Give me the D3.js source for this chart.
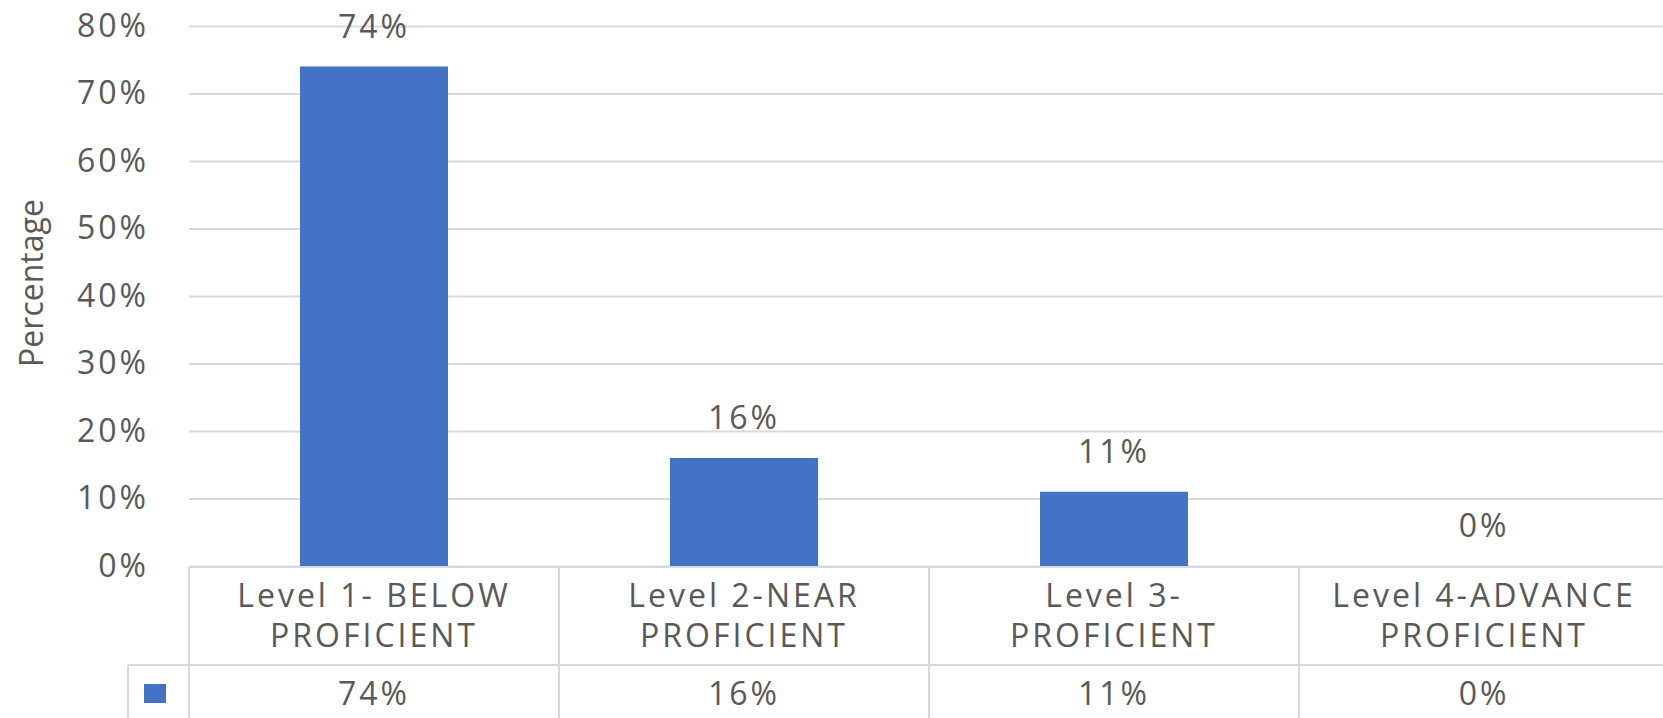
<!DOCTYPE html>
<html>
<head>
<meta charset="utf-8">
<script src="https://cdn.jsdelivr.net/npm/d3@7"></script>
<style>
  html, body { margin: 0; padding: 0; background: #fff; overflow: hidden; }
  text { font-family: "Open Sans", sans-serif; fill: #595959; }
</style>
</head>
<body>
<div id="chart"></div>
<script>
// chart data
var categories = ["Level 1- BELOW\nPROFICIENT", "Level 2-NEAR\nPROFICIENT", "Level 3-\nPROFICIENT", "Level 4-ADVANCE\nPROFICIENT"];
var values = [0.74, 0.16, 0.11, 0.00];
var yTicks = [0, 0.1, 0.2, 0.3, 0.4, 0.5, 0.6, 0.7, 0.8];
var yTitle = "Percentage";

var W = 1663, H = 718;
var margin = {left: 189, right: 1669, top: 26, bottom: 566};
var labelRowBottom = 665, legendLeft = 128;
var gridColor = "#d9d9d9", barColor = "#4472c4";
var fontSize = "32px", spacing = "3px";

var pct = d3.format(".0%");

var svg = d3.select("#chart").append("svg")
    .attr("width", W)
    .attr("height", H);

// set the ranges
var x = d3.scaleBand()
    .domain(categories)
    .range([margin.left, margin.right])
    .paddingInner(0.6)
    .paddingOuter(0.3);
var y = d3.scaleLinear()
    .domain([0, 0.8])
    .range([margin.bottom, margin.top]);

// gridlines + tick labels
var yAxis = svg.append("g")
    .attr("transform", "translate(" + margin.left + ",0)")
    .call(d3.axisLeft(y)
      .tickValues(yTicks)
      .tickFormat(pct)
      .tickSize(-(margin.right - margin.left))
      .tickPadding(40));
yAxis.select(".domain").remove();
yAxis.selectAll(".tick line")
    .attr("stroke", gridColor)
    .attr("stroke-width", 2);
yAxis.selectAll(".tick text")
    .attr("fill", "#595959")
    .style("font-family", "'Open Sans', sans-serif")
    .style("font-size", fontSize)
    .style("letter-spacing", spacing);

// y title
svg.append("text")
    .attr("transform", "translate(30,283) rotate(-90)")
    .attr("text-anchor", "middle")
    .attr("dominant-baseline", "central")
    .style("font-size", fontSize)
    .text(yTitle);

// bars
var data = categories.map(function(c, i) { return {cat: c, v: values[i]}; });
svg.selectAll(".bar")
    .data(data)
  .enter().append("rect")
    .attr("class", "bar")
    .attr("fill", barColor)
    .attr("x", function(d) { return x(d.cat); })
    .attr("width", x.bandwidth())
    .attr("y", function(d) { return y(d.v); })
    .attr("height", function(d) { return y(0) - y(d.v); });

// value labels above bars
svg.selectAll(".val")
    .data(data)
  .enter().append("text")
    .attr("class", "val")
    .attr("text-anchor", "middle")
    .attr("x", function(d) { return x(d.cat) + x.bandwidth() / 2; })
    .attr("y", function(d) { return y(d.v) - 29; })
    .style("font-size", fontSize)
    .style("letter-spacing", spacing)
    .text(function(d) { return pct(d.v); });

// data table under the axis
var step = x.step();
var table = svg.append("g")
    .attr("stroke", gridColor)
    .attr("stroke-width", 2)
    .attr("fill", "none");
table.append("line")
    .attr("x1", margin.left).attr("x2", W)
    .attr("y1", margin.bottom + 1).attr("y2", margin.bottom + 1);
table.append("line")
    .attr("x1", legendLeft).attr("x2", W)
    .attr("y1", labelRowBottom).attr("y2", labelRowBottom);
table.append("line")
    .attr("x1", legendLeft).attr("x2", legendLeft)
    .attr("y1", labelRowBottom).attr("y2", H);
table.selectAll(".vline")
    .data(d3.range(categories.length + 1))
  .enter().append("line")
    .attr("class", "vline")
    .attr("x1", function(i) { return margin.left + i * step; })
    .attr("x2", function(i) { return margin.left + i * step; })
    .attr("y1", margin.bottom + 1)
    .attr("y2", H);

// category labels (two lines)
var catText = svg.selectAll(".cat")
    .data(data)
  .enter().append("text")
    .attr("class", "cat")
    .attr("text-anchor", "middle")
    .style("font-size", fontSize)
    .style("letter-spacing", spacing);
catText.selectAll("tspan")
    .data(function(d) {
      var cx = x(d.cat) + x.bandwidth() / 2;
      return d.cat.split("\n").map(function(s) { return {s: s, cx: cx}; });
    })
  .enter().append("tspan")
    .attr("x", function(d) { return d.cx; })
    .attr("y", function(d, i) { return 607 + i * 40; })
    .text(function(d) { return d.s; });

// values row
svg.selectAll(".tval")
    .data(data)
  .enter().append("text")
    .attr("class", "tval")
    .attr("text-anchor", "middle")
    .attr("x", function(d) { return x(d.cat) + x.bandwidth() / 2; })
    .attr("y", 705)
    .style("font-size", fontSize)
    .style("letter-spacing", spacing)
    .text(function(d) { return pct(d.v); });

// legend key
svg.append("rect")
    .attr("x", 144)
    .attr("y", 684)
    .attr("width", 22)
    .attr("height", 19)
    .attr("fill", barColor);
</script>
</body>
</html>
